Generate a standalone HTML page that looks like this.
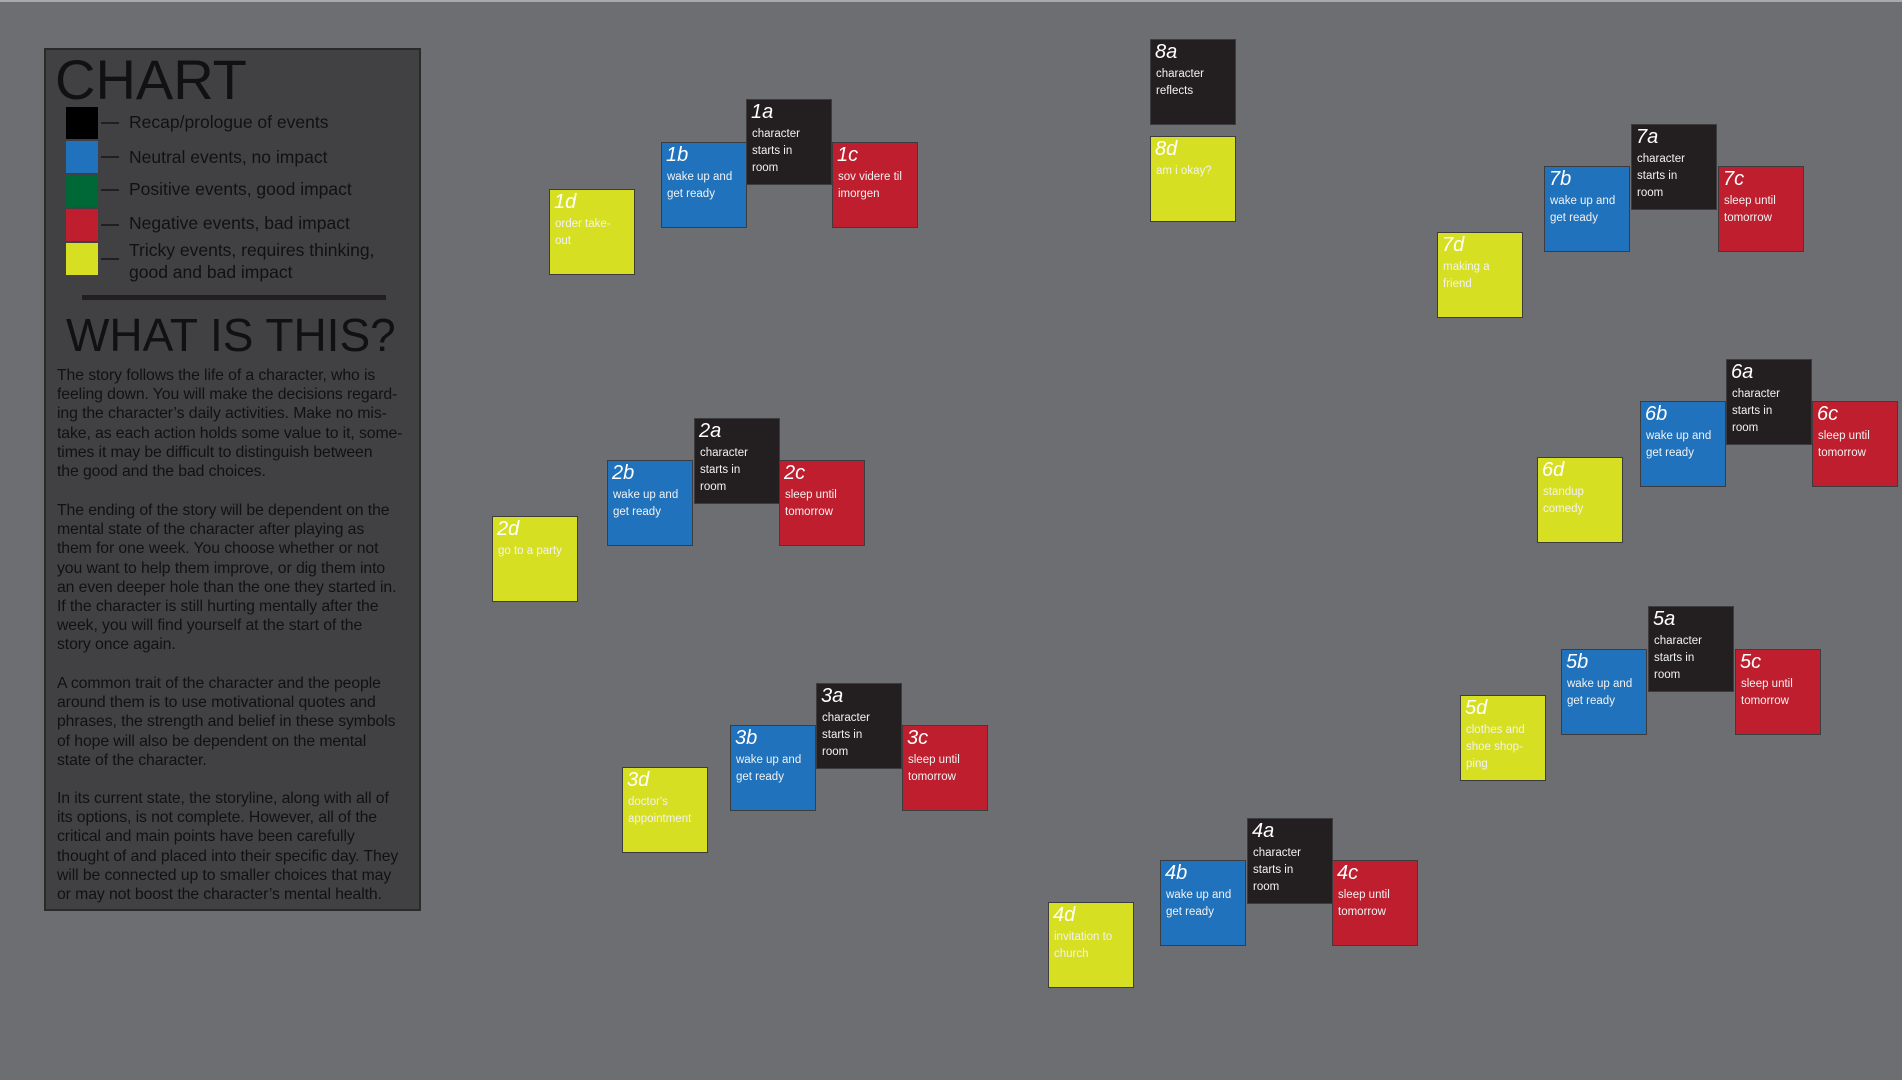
<!DOCTYPE html>
<html><head><meta charset="utf-8"><style>
html,body{margin:0;padding:0}
body{width:1902px;height:1080px;background:#6d6e72;position:relative;overflow:hidden;font-family:"Liberation Sans",sans-serif}
.topl{position:absolute;left:0;top:0;width:1902px;height:2px;background:#a8a9ac}
.panel{position:absolute;left:44px;top:48px;width:377px;height:863px;background:#414143;border:2px solid #2b2a2b;box-sizing:border-box}
.abs{position:absolute;white-space:nowrap;color:#111}
.sq{position:absolute;left:66px;width:32px;height:32px}
.dash{position:absolute;left:101px;width:18px;height:2px;background:#231f20}
.lg{position:absolute;left:129px;font-size:17.5px;color:#111;white-space:nowrap;line-height:22px}
.p{position:absolute;left:57px;font-size:15.8px;line-height:19.2px;color:#111;white-space:nowrap;letter-spacing:-0.1px}
.b{position:absolute;width:86px;height:86px;box-sizing:border-box;border:1px solid #3c3c3e;color:#fff;overflow:hidden}
.b .n{position:absolute;left:4px;top:1px;font-size:20px;font-style:italic;line-height:22px}
.b .t{position:absolute;left:5px;top:26px;font-size:11.5px;line-height:17px;white-space:nowrap;color:#f2f2f2}
.k{background:#231f20}.u{background:#1f72bb}.r{background:#be1e2d}.y{background:#d7df23}
</style></head><body>
<div class="topl"></div>
<div class="panel"></div>
<div class="abs" style="left:55px;top:47px;font-size:56px;line-height:66px">CHART</div>
<div class="sq" style="top:107px;background:#000"></div>
<div class="sq" style="top:141px;background:#1f72bb"></div>
<div class="sq" style="top:175px;background:#006837"></div>
<div class="sq" style="top:209px;background:#be1e2d"></div>
<div class="sq" style="top:243px;background:#d7df23"></div>
<div class="dash" style="top:122px"></div>
<div class="dash" style="top:156px"></div>
<div class="dash" style="top:189px"></div>
<div class="dash" style="top:224px"></div>
<div class="dash" style="top:258px"></div>
<div class="lg" style="top:111px">Recap/prologue of events</div>
<div class="lg" style="top:146px">Neutral events, no impact</div>
<div class="lg" style="top:178px">Positive events, good impact</div>
<div class="lg" style="top:212px">Negative events, bad impact</div>
<div class="lg" style="top:239px">Tricky events, requires thinking,<br>good and bad impact</div>
<div style="position:absolute;left:82px;top:295px;width:304px;height:5px;background:#231f20"></div>
<div class="abs" style="left:66px;top:309px;font-size:46px;line-height:52px">WHAT IS THIS?</div>
<div class="p" style="top:366px">The story follows the life of a character, who is<br>feeling down. You will make the decisions regard-<br>ing the character’s daily activities. Make no mis-<br>take, as each action holds some value to it, some-<br>times it may be difficult to distinguish between<br>the good and the bad choices.</div>
<div class="p" style="top:501px">The ending of the story will be dependent on the<br>mental state of the character after playing as<br>them for one week. You choose whether or not<br>you want to help them improve, or dig them into<br>an even deeper hole than the one they started in.<br>If the character is still hurting mentally after the<br>week, you will find yourself at the start of the<br>story once again.</div>
<div class="p" style="top:674px">A common trait of the character and the people<br>around them is to use motivational quotes and<br>phrases, the strength and belief in these symbols<br>of hope will also be dependent on the mental<br>state of the character.</div>
<div class="p" style="top:789px">In its current state, the storyline, along with all of<br>its options, is not complete. However, all of the<br>critical and main points have been carefully<br>thought of and placed into their specific day. They<br>will be connected up to smaller choices that may<br>or may not boost the character’s mental health.</div>

<div class="b k" style="left:746px;top:99px"><div class="n">1a</div><div class="t">character<br>starts in<br>room</div></div>
<div class="b u" style="left:661px;top:142px"><div class="n">1b</div><div class="t">wake up and<br>get ready</div></div>
<div class="b r" style="left:832px;top:142px"><div class="n">1c</div><div class="t">sov videre til<br>imorgen</div></div>
<div class="b y" style="left:549px;top:189px"><div class="n">1d</div><div class="t">order take-<br>out</div></div>

<div class="b k" style="left:694px;top:418px"><div class="n">2a</div><div class="t">character<br>starts in<br>room</div></div>
<div class="b u" style="left:607px;top:460px"><div class="n">2b</div><div class="t">wake up and<br>get ready</div></div>
<div class="b r" style="left:779px;top:460px"><div class="n">2c</div><div class="t">sleep until<br>tomorrow</div></div>
<div class="b y" style="left:492px;top:516px"><div class="n">2d</div><div class="t">go to a party</div></div>

<div class="b k" style="left:816px;top:683px"><div class="n">3a</div><div class="t">character<br>starts in<br>room</div></div>
<div class="b u" style="left:730px;top:725px"><div class="n">3b</div><div class="t">wake up and<br>get ready</div></div>
<div class="b r" style="left:902px;top:725px"><div class="n">3c</div><div class="t">sleep until<br>tomorrow</div></div>
<div class="b y" style="left:622px;top:767px"><div class="n">3d</div><div class="t">doctor's<br>appointment</div></div>

<div class="b k" style="left:1247px;top:818px"><div class="n">4a</div><div class="t">character<br>starts in<br>room</div></div>
<div class="b u" style="left:1160px;top:860px"><div class="n">4b</div><div class="t">wake up and<br>get ready</div></div>
<div class="b r" style="left:1332px;top:860px"><div class="n">4c</div><div class="t">sleep until<br>tomorrow</div></div>
<div class="b y" style="left:1048px;top:902px"><div class="n">4d</div><div class="t">invitation to<br>church</div></div>

<div class="b k" style="left:1648px;top:606px"><div class="n">5a</div><div class="t">character<br>starts in<br>room</div></div>
<div class="b u" style="left:1561px;top:649px"><div class="n">5b</div><div class="t">wake up and<br>get ready</div></div>
<div class="b r" style="left:1735px;top:649px"><div class="n">5c</div><div class="t">sleep until<br>tomorrow</div></div>
<div class="b y" style="left:1460px;top:695px"><div class="n">5d</div><div class="t">clothes and<br>shoe shop-<br>ping</div></div>

<div class="b k" style="left:1726px;top:359px"><div class="n">6a</div><div class="t">character<br>starts in<br>room</div></div>
<div class="b u" style="left:1640px;top:401px"><div class="n">6b</div><div class="t">wake up and<br>get ready</div></div>
<div class="b r" style="left:1812px;top:401px"><div class="n">6c</div><div class="t">sleep until<br>tomorrow</div></div>
<div class="b y" style="left:1537px;top:457px"><div class="n">6d</div><div class="t">standup<br>comedy</div></div>

<div class="b k" style="left:1631px;top:124px"><div class="n">7a</div><div class="t">character<br>starts in<br>room</div></div>
<div class="b u" style="left:1544px;top:166px"><div class="n">7b</div><div class="t">wake up and<br>get ready</div></div>
<div class="b r" style="left:1718px;top:166px"><div class="n">7c</div><div class="t">sleep until<br>tomorrow</div></div>
<div class="b y" style="left:1437px;top:232px"><div class="n">7d</div><div class="t">making a<br>friend</div></div>

<div class="b k" style="left:1150px;top:39px"><div class="n">8a</div><div class="t">character<br>reflects</div></div>
<div class="b y" style="left:1150px;top:136px"><div class="n">8d</div><div class="t">am i okay?</div></div>
</body></html>
